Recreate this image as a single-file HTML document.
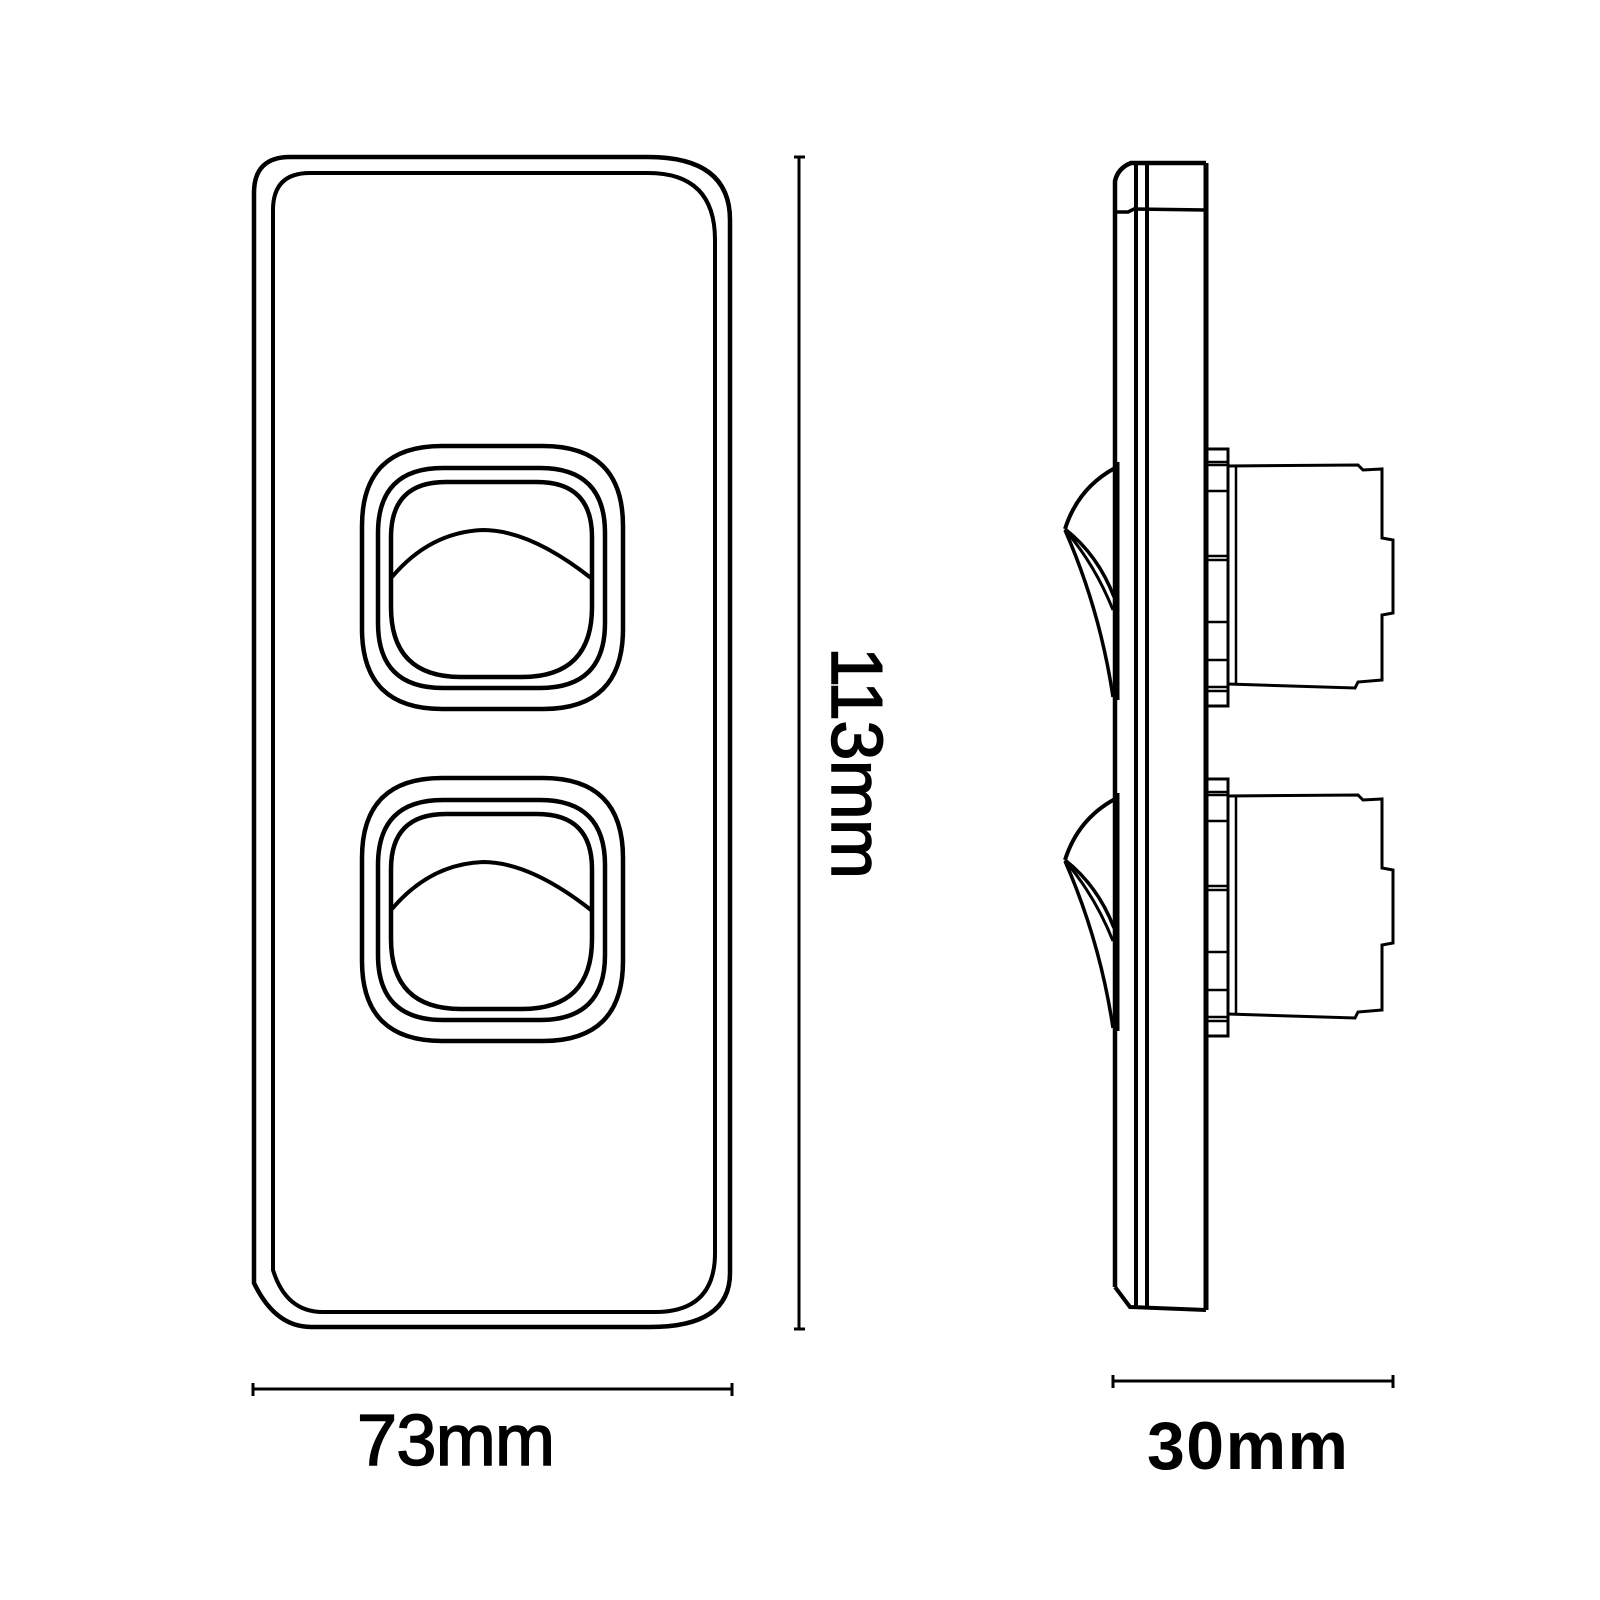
<!DOCTYPE html>
<html><head><meta charset="utf-8"><style>
html,body{margin:0;padding:0;background:#fff;}
svg{display:block;}
text{font-family:"Liberation Sans",sans-serif;fill:#000;}
</style></head><body>
<svg width="1600" height="1600" viewBox="0 0 1600 1600" xmlns="http://www.w3.org/2000/svg">
<defs>
  <g id="sw">
    <path d="M442,446 L543,446 Q623,446 623,526 L623,629 Q623,709 543,709 L442,709 Q362,709 362,629 L362,526 Q362,446 442,446 Z" fill="none" stroke="#000" stroke-width="4.5"/>
    <path d="M443,468 L540,468 Q605,468 605,533 L605,623 Q605,688 540,688 L443,688 Q378,688 378,623 L378,533 Q378,468 443,468 Z" fill="none" stroke="#000" stroke-width="4.5"/>
    <path d="M446,482 L537,482 Q592,482 592,537 L592,607 Q592,677 522,677 L461,677 Q391,677 391,607 L391,537 Q391,482 446,482 Z" fill="none" stroke="#000" stroke-width="4.5"/>
    <path d="M392,577 Q430,532 483,530 Q530,530 591,578" fill="none" stroke="#000" stroke-width="4"/>
  </g>
  <g id="rk">
    <line x1="1117" y1="462" x2="1117" y2="700" stroke="#000" stroke-width="5"/>
    <path d="M1115,468 Q1078,488 1065,529" fill="none" stroke="#000" stroke-width="4"/>
    <path d="M1065,529 Q1098,555 1114,597" fill="none" stroke="#000" stroke-width="3.5"/>
    <path d="M1066,531 Q1095,565 1113,610" fill="none" stroke="#000" stroke-width="3"/>
    <path d="M1065,530 Q1100,610 1113,697" fill="none" stroke="#000" stroke-width="3.5"/>
  </g>
  <g id="md" fill="none" stroke="#000">
    <rect x="1206" y="449" width="22" height="257" stroke-width="3"/>
    <g stroke-width="2.5">
      <line x1="1206" y1="462" x2="1228" y2="462"/><line x1="1206" y1="465" x2="1228" y2="465"/>
      <line x1="1206" y1="491" x2="1228" y2="491"/>
      <line x1="1206" y1="556" x2="1228" y2="556"/><line x1="1206" y1="560" x2="1228" y2="560"/>
      <line x1="1206" y1="622" x2="1228" y2="622"/>
      <line x1="1206" y1="660" x2="1228" y2="660"/>
      <line x1="1206" y1="687" x2="1228" y2="687"/><line x1="1206" y1="691" x2="1228" y2="691"/>
    </g>
    <line x1="1236" y1="466" x2="1236" y2="685" stroke-width="2.5"/>
    <path d="M1228,466 L1358,465 L1363,470 L1382,469 L1382,538 L1393,540 L1393,613 L1382,615 L1382,680 L1358,682 L1355,688 L1228,684" stroke-width="3"/>
  </g>
</defs>

<path d="M290,157 L648,157 Q730,157 730,220 L730,1273 Q730,1327 650,1327 L311,1327 Q275,1327 254,1283 L254,193 Q254,157 290,157 Z" fill="none" stroke="#000" stroke-width="4.5"/>
<path d="M310,173 L648,173 Q715,173 715,240 L715,1253 Q715,1312 655,1312 L323,1312 Q286,1312 273,1270 L273,210 Q273,173 310,173 Z" fill="none" stroke="#000" stroke-width="4"/>

<use href="#sw"/>
<use href="#sw" transform="translate(0,332)"/>

<g stroke="#000" stroke-width="3">
  <line x1="799" y1="157" x2="799" y2="1329"/>
  <line x1="794" y1="157" x2="805" y2="157"/>
  <line x1="794" y1="1329" x2="805" y2="1329"/>
  <line x1="253" y1="1389" x2="732" y2="1389"/>
  <line x1="253" y1="1383" x2="253" y2="1396"/>
  <line x1="732" y1="1383" x2="732" y2="1396"/>
  <line x1="1113" y1="1381" x2="1393" y2="1381"/>
  <line x1="1113" y1="1375" x2="1113" y2="1388"/>
  <line x1="1393" y1="1375" x2="1393" y2="1388"/>
</g>

<text x="357" y="1465" font-size="72" textLength="198" stroke="#000" stroke-width="1.5">73mm</text>
<text x="1147" y="1469" font-size="68" font-weight="bold" textLength="201">30mm</text>
<text transform="translate(832,647) rotate(90)" font-size="72" textLength="232" stroke="#000" stroke-width="1.5">113mm</text>

<g fill="none" stroke="#000">
  <path d="M1115,1287 L1115,181 Q1118,168 1131,163 L1206,163" stroke-width="4.5"/>
  <path d="M1115,1287 L1130,1307 L1206,1310" stroke-width="4"/>
  <line x1="1136" y1="163" x2="1136" y2="1308" stroke-width="4"/>
  <line x1="1147" y1="163" x2="1147" y2="1309" stroke-width="4"/>
  <line x1="1206" y1="163" x2="1206" y2="1310" stroke-width="5"/>
  <path d="M1115,212 L1128,212 L1134,209 L1206,210" stroke-width="3.5"/>
</g>

<use href="#rk"/>
<use href="#rk" transform="translate(0,331)"/>
<use href="#md"/>
<use href="#md" transform="translate(0,330)"/>
</svg>
</body></html>
